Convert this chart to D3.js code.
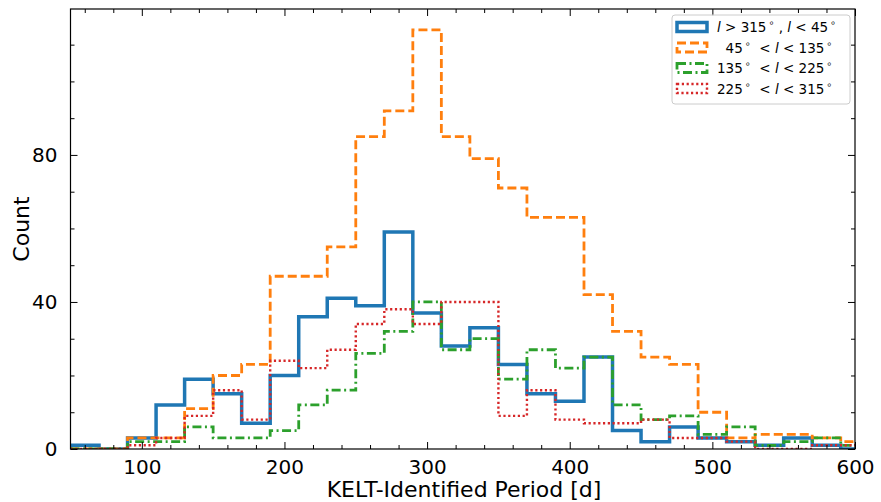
<!DOCTYPE html>
<html>
<head>
<meta charset="utf-8">
<script src="https://cdn.jsdelivr.net/npm/d3@7"></script>
<style>
  body { margin: 0; background: #fff; }
  text { font-family: "DejaVu Sans", sans-serif; fill: #000; }
</style>
</head>
<body>
<svg id="chart" width="881" height="502"></svg>
<script>
// Histogram bin edges (20 d wide) and counts per Galactic-longitude range
const binEdges = d3.range(50, 611, 20);
const countsNorthCap = [1, 0, 3, 12, 19, 15, 7, 20, 36, 41, 39, 59, 37, 28, 33, 23, 15, 13, 25, 5, 2, 6, 3, 2, 1, 3, 1, 0];
const counts45to135  = [0, 0, 3, 3, 11, 20, 23, 47, 47, 55, 85, 92, 114, 85, 79, 71, 63, 63, 42, 32, 25, 23, 10, 3, 4, 4, 3, 2];
const counts135to225 = [0, 0, 2, 2, 6, 3, 3, 5, 12, 16, 26, 32, 40, 27, 30, 19, 27, 22, 25, 12, 8, 9, 4, 6, 1, 2, 3, 1];
const counts225to315 = [0, 0, 1, 3, 9, 16, 8, 24, 22, 27, 34, 38, 34, 40, 40, 9, 16, 8, 7, 7, 8, 3, 3, 2, 0, 0, 1, 1];

const xMajorTicks = [100, 200, 300, 400, 500, 600];
const yMajorTicks = [0, 40, 80];
const xLabel = "KELT-Identified Period [d]";
const yLabel = "Count";

// Legend labels as runs: plain, italic (i) or superscript (s)
const legendLabels = [
  [["l", "i"], [" > 315", ""], ["∘", "s"], [" , ", ""], ["l", "i"], [" < 45", ""], ["∘", "s"]],
  [["  45", ""], ["∘", "s"], ["  < ", ""], ["l", "i"], [" < 135", ""], ["∘", "s"]],
  [["135", ""], ["∘", "s"], ["  < ", ""], ["l", "i"], [" < 225", ""], ["∘", "s"]],
  [["225", ""], ["∘", "s"], ["  < ", ""], ["l", "i"], [" < 315", ""], ["∘", "s"]]
];

const series = [
  { counts: countsNorthCap, color: "#1f77b4", width: 3.5, dash: null },
  { counts: counts45to135,  color: "#ff7f0e", width: 2.8, dash: "9,4" },
  { counts: counts135to225, color: "#2ca02c", width: 2.8, dash: "9,3.5,2,3.5" },
  { counts: counts225to315, color: "#d62728", width: 2.4, dash: "2.2,2.6" }
];

const svg = d3.select("#chart");
const plot = { left: 70.5, right: 855, top: 9, bottom: 449 };

const x = d3.scaleLinear().domain([50, 600]).range([plot.left, plot.right]);
const y = d3.scaleLinear().domain([0, 119.7]).range([plot.bottom, plot.top]);

svg.append("defs").append("clipPath").attr("id", "plotClip")
  .append("rect")
  .attr("x", plot.left).attr("y", plot.top)
  .attr("width", plot.right - plot.left).attr("height", plot.bottom - plot.top);

// Step outlines of each histogram
function stepPoints(counts) {
  const pts = [[binEdges[0], 0]];
  counts.forEach((c, i) => {
    pts.push([binEdges[i], c]);
    pts.push([binEdges[i + 1], c]);
  });
  pts.push([binEdges[counts.length], 0]);
  return pts;
}
const line = d3.line().x(d => x(d[0])).y(d => y(d[1]));

const g = svg.append("g").attr("clip-path", "url(#plotClip)");
series.forEach(s => {
  g.append("path")
    .attr("d", line(stepPoints(s.counts)))
    .attr("fill", "none")
    .attr("stroke", s.color)
    .attr("stroke-width", s.width)
    .attr("stroke-linejoin", "miter")
    .attr("stroke-dasharray", s.dash);
});

// Axes with inward ticks on all four sides
const xMinor = d3.range(60, 601, 20).filter(v => !xMajorTicks.includes(v));
const yMinor = d3.range(10, 120, 10).filter(v => !yMajorTicks.includes(v));
const majorLen = 7, minorLen = 4;

function styleAxis(sel) {
  sel.select(".domain").remove();
  sel.selectAll(".tick line").attr("stroke", "#000").attr("stroke-width", 1);
  sel.selectAll(".tick text").attr("font-size", 20).attr("font-family", "DejaVu Sans");
}

svg.append("g").attr("transform", `translate(0,${plot.bottom})`)
  .call(d3.axisBottom(x).tickValues(xMajorTicks).tickSize(-majorLen).tickPadding(majorLen + 4).tickFormat(d3.format("d")))
  .call(styleAxis);
svg.append("g").attr("transform", `translate(0,${plot.bottom})`)
  .call(d3.axisBottom(x).tickValues(xMinor).tickSize(-minorLen).tickFormat(""))
  .call(styleAxis);
svg.append("g").attr("transform", `translate(0,${plot.top})`)
  .call(d3.axisTop(x).tickValues(xMajorTicks).tickSize(-majorLen).tickFormat(""))
  .call(styleAxis);
svg.append("g").attr("transform", `translate(0,${plot.top})`)
  .call(d3.axisTop(x).tickValues(xMinor).tickSize(-minorLen).tickFormat(""))
  .call(styleAxis);

svg.append("g").attr("transform", `translate(${plot.left},0)`)
  .call(d3.axisLeft(y).tickValues(yMajorTicks).tickSize(-majorLen).tickPadding(majorLen + 6).tickFormat(d3.format("d")))
  .call(styleAxis);
svg.append("g").attr("transform", `translate(${plot.left},0)`)
  .call(d3.axisLeft(y).tickValues(yMinor).tickSize(-minorLen).tickFormat(""))
  .call(styleAxis);
svg.append("g").attr("transform", `translate(${plot.right},0)`)
  .call(d3.axisRight(y).tickValues(yMajorTicks).tickSize(-majorLen).tickFormat(""))
  .call(styleAxis);
svg.append("g").attr("transform", `translate(${plot.right},0)`)
  .call(d3.axisRight(y).tickValues(yMinor).tickSize(-minorLen).tickFormat(""))
  .call(styleAxis);

// Frame
svg.append("rect")
  .attr("x", plot.left).attr("y", plot.top)
  .attr("width", plot.right - plot.left).attr("height", plot.bottom - plot.top)
  .attr("fill", "none").attr("stroke", "#000").attr("stroke-width", 1.2);

// Axis titles
svg.append("text")
  .attr("x", 464).attr("y", 497)
  .attr("text-anchor", "middle").attr("font-size", 22)
  .text(xLabel);
svg.append("text")
  .attr("transform", `translate(29,${(plot.top + plot.bottom) / 2}) rotate(-90)`)
  .attr("text-anchor", "middle").attr("font-size", 22)
  .text(yLabel);

// Legend
const legend = svg.append("g");
legend.append("rect")
  .attr("x", 672).attr("y", 15).attr("width", 178).attr("height", 89)
  .attr("rx", 3).attr("fill", "#fff").attr("fill-opacity", 0.8)
  .attr("stroke", "#cccccc").attr("stroke-width", 1);

series.forEach((s, i) => {
  const cy = 27 + i * 20.5;
  legend.append("rect")
    .attr("x", 677).attr("y", cy - 4.5).attr("width", 30).attr("height", 9)
    .attr("fill", "none").attr("stroke", s.color)
    .attr("stroke-width", s.width).attr("stroke-dasharray", s.dash);
  const t = legend.append("text")
    .attr("x", 717).attr("y", cy + 5)
    .attr("font-size", 13.5)
    .attr("xml:space", "preserve")
    .style("white-space", "pre");
  legendLabels[i].forEach(([txt, kind]) => {
    const ts = t.append("tspan").text(txt);
    if (kind === "i") ts.attr("font-style", "italic");
    if (kind === "s") ts.attr("font-size", 9.5).attr("dy", -6).attr("dx", 2);
    else ts.attr("dy", 0);
  });
  // restore baseline after superscripts
  t.selectAll("tspan").each(function (d, k) {
    const prev = k > 0 ? legendLabels[i][k - 1][1] : "";
    if (prev === "s" && legendLabels[i][k][1] !== "s") d3.select(this).attr("dy", 6);
  });
});
</script>
</body>
</html>
